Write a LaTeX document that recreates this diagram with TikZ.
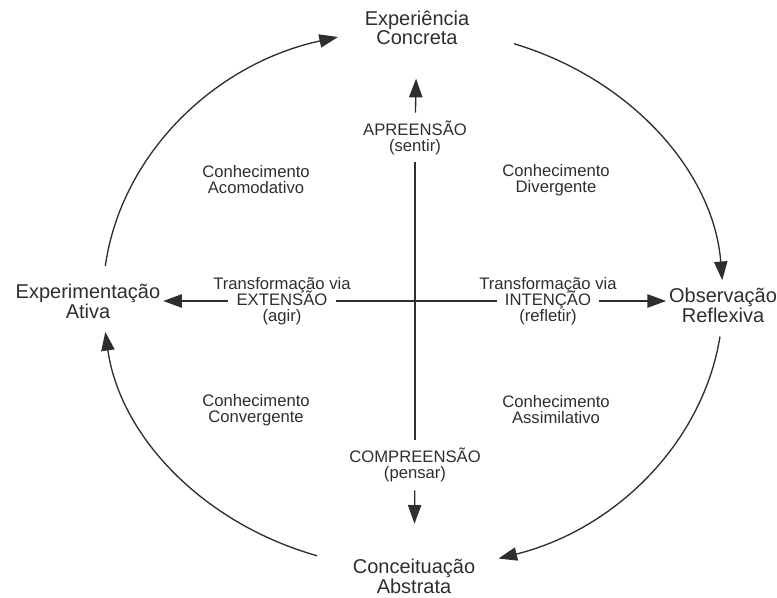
\documentclass[tikz,border=0pt]{standalone}
\usepackage{fontspec}
\setmainfont{Liberation Sans}
\usetikzlibrary{arrows.meta,calc}
\definecolor{ink}{HTML}{2E2E2E}

\begin{document}
\begin{tikzpicture}[x=0.75pt,y=0.75pt,
    stage/.style={align=center,font=\fontsize{15}{13.5}\selectfont,text=ink,inner sep=2pt},
    lbl/.style={align=center,font=\fontsize{12.5}{12}\selectfont,text=ink,inner sep=2pt},
    row/.style={lbl,inner ysep=0pt,text height=8pt,text depth=2pt},
    axis/.style={draw=ink,line width=1pt},
    arr/.style={axis,-{Triangle[length=14pt,width=10pt]}}]
  \useasboundingbox (0,0) rectangle (777,597);
  \node[stage] (ec) at (417,569) {Experiência\\Concreta};
  \node[stage] (orf) at (723,292) {Observação\\Reflexiva};
  \node[stage] (ea) at (88,296) {Experimentação\\Ativa};
  \node[stage] (ca) at (414,21) {Conceituação\\Abstrata};
  \node[lbl] (apr) at (415,459) {APREENSÃO\\(sentir)};
  \node[lbl] (comp) at (415,132) {COMPREENSÃO\\(pensar)};
  \node[lbl] (acom) at (256,417) {Conhecimento\\Acomodativo};
  \node[lbl] (div) at (556,417) {Conhecimento\\Divergente};
  \node[lbl] (conv) at (256,187) {Conhecimento\\Convergente};
  \node[lbl] (assim) at (556,187) {Conhecimento\\Assimilativo};
  \node[row,inner xsep=6pt] (ext) at (282,296) {EXTENSÃO};
  \node[row] (tvl) at (282,312) {Transformação via};
  \node[row] (agir) at (282,280) {(agir)};
  \node[row,inner xsep=6pt] (int) at (548,296) {INTENÇÃO};
  \node[row] (tvr) at (548,312) {Transformação via};
  \node[row] (refl) at (548,280) {(refletir)};
  \draw[arr,shorten <=4pt,shorten >=23pt] (apr) -- (ec);
  \draw[axis,shorten <=3pt,shorten >=4pt] (apr) -- (comp);
  \draw[arr,shorten <=4pt,shorten >=24pt] (comp) -- (ca);
  \draw[arr] (ext.west) -- (ea.east |- ext.west);
  \draw[axis] (ext.east) -- (int.west);
  \draw[arr] (int.east) -- (orf.west |- int.east);
  \coordinate (c) at (413,298);
  \foreach \a/\b in {173/104, 71/4, -8/-74, -108/-173}
    \draw[arr] ($(c)+(\a:310 and 270)$) arc[start angle=\a, end angle=\b, x radius=310, y radius=270];
\end{tikzpicture}
\end{document}
